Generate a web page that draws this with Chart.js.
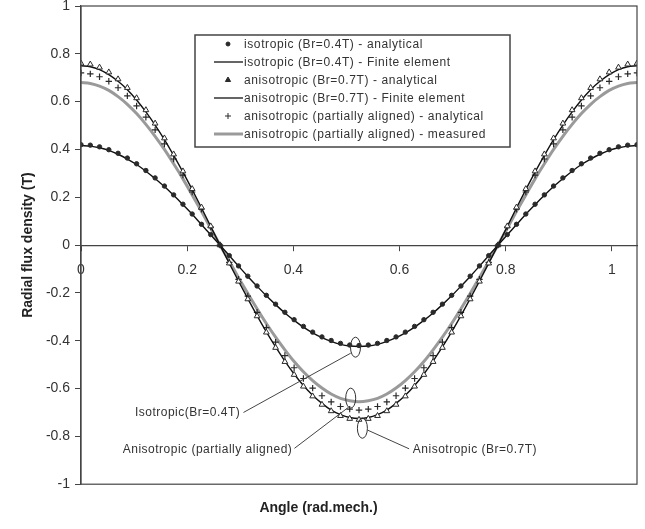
<!DOCTYPE html>
<html>
<head>
<meta charset="utf-8">
<script src="https://cdn.jsdelivr.net/npm/chart.js@4/dist/chart.umd.min.js"></script>
<style>
  html, body { margin: 0; padding: 0; background: #fff; }
  #wrap { width: 645px; height: 529px; }
</style>
</head>
<body>
<div id="wrap"><canvas id="c" width="645" height="529"></canvas></div>
<script>
// ---- data ----
const angles = [0,0.0175,0.0349,0.0524,0.0698,0.0873,0.1047,0.1222,0.1396,0.1571,0.1745,0.1920,0.2094,0.2269,0.2443,0.2618,0.2793,0.2967,0.3142,0.3316,0.3491,0.3665,0.3840,0.4014,0.4189,0.4363,0.4538,0.4712,0.4887,0.5061,0.5236,0.5411,0.5585,0.5760,0.5934,0.6109,0.6283,0.6458,0.6632,0.6807,0.6981,0.7156,0.7330,0.7505,0.7679,0.7854,0.8029,0.8203,0.8378,0.8552,0.8727,0.8901,0.9076,0.9250,0.9425,0.9599,0.9774,0.9948,1.0123,1.0297,1.0472];

const isoAnalytical = [0.420,0.418,0.411,0.399,0.384,0.364,0.340,0.312,0.281,0.247,0.210,0.171,0.130,0.087,0.044,0.000,-0.044,-0.087,-0.130,-0.171,-0.210,-0.247,-0.281,-0.312,-0.340,-0.364,-0.384,-0.399,-0.411,-0.418,-0.420,-0.418,-0.411,-0.399,-0.384,-0.364,-0.340,-0.312,-0.281,-0.247,-0.210,-0.171,-0.130,-0.087,-0.044,0.000,0.044,0.087,0.130,0.171,0.210,0.247,0.281,0.312,0.340,0.364,0.384,0.399,0.411,0.418,0.420];

const isoFiniteElement = [0.416,0.414,0.407,0.396,0.380,0.360,0.337,0.309,0.278,0.245,0.208,0.169,0.129,0.086,0.043,0.000,-0.044,-0.088,-0.131,-0.172,-0.212,-0.249,-0.284,-0.315,-0.343,-0.367,-0.387,-0.403,-0.415,-0.422,-0.424,-0.422,-0.415,-0.403,-0.387,-0.367,-0.343,-0.315,-0.284,-0.249,-0.212,-0.172,-0.131,-0.088,-0.044,0.000,0.043,0.086,0.129,0.169,0.208,0.245,0.278,0.309,0.337,0.360,0.380,0.396,0.407,0.414,0.416];

const anisoAnalytical = [0.760,0.756,0.743,0.723,0.694,0.658,0.615,0.565,0.509,0.447,0.380,0.309,0.235,0.158,0.079,0.000,-0.076,-0.152,-0.226,-0.297,-0.365,-0.429,-0.488,-0.542,-0.591,-0.632,-0.667,-0.694,-0.714,-0.726,-0.730,-0.726,-0.714,-0.694,-0.667,-0.632,-0.591,-0.542,-0.488,-0.429,-0.365,-0.297,-0.226,-0.152,-0.076,0.000,0.079,0.158,0.235,0.309,0.380,0.447,0.509,0.565,0.615,0.658,0.694,0.723,0.743,0.756,0.760];

const anisoFiniteElement = [0.750,0.746,0.734,0.713,0.685,0.650,0.607,0.557,0.502,0.441,0.375,0.305,0.232,0.156,0.078,0.000,-0.076,-0.151,-0.224,-0.295,-0.363,-0.426,-0.485,-0.539,-0.587,-0.628,-0.662,-0.690,-0.709,-0.721,-0.725,-0.721,-0.709,-0.690,-0.662,-0.628,-0.587,-0.539,-0.485,-0.426,-0.363,-0.295,-0.224,-0.151,-0.076,0.000,0.078,0.156,0.232,0.305,0.375,0.441,0.502,0.557,0.607,0.650,0.685,0.713,0.734,0.746,0.750];

const partialAnalytical = [0.720,0.716,0.704,0.685,0.658,0.624,0.582,0.535,0.482,0.423,0.360,0.293,0.222,0.150,0.075,0.000,-0.072,-0.143,-0.213,-0.281,-0.345,-0.406,-0.462,-0.513,-0.558,-0.598,-0.630,-0.656,-0.675,-0.686,-0.690,-0.686,-0.675,-0.656,-0.630,-0.598,-0.558,-0.513,-0.462,-0.406,-0.345,-0.281,-0.213,-0.143,-0.072,0.000,0.075,0.150,0.222,0.293,0.360,0.423,0.482,0.535,0.582,0.624,0.658,0.685,0.704,0.716,0.720];

const partialMeasured = [0.680,0.676,0.665,0.647,0.621,0.589,0.550,0.505,0.455,0.400,0.340,0.277,0.210,0.141,0.071,0.000,-0.068,-0.136,-0.202,-0.266,-0.328,-0.385,-0.438,-0.487,-0.530,-0.567,-0.598,-0.623,-0.641,-0.651,-0.655,-0.651,-0.641,-0.623,-0.598,-0.567,-0.530,-0.487,-0.438,-0.385,-0.328,-0.266,-0.202,-0.136,-0.068,0.000,0.071,0.141,0.210,0.277,0.340,0.400,0.455,0.505,0.550,0.589,0.621,0.647,0.665,0.676,0.680];

const seriesNames = [
  'isotropic (Br=0.4T) - analytical',
  'isotropic (Br=0.4T) - Finite element',
  'anisotropic (Br=0.7T) - analytical',
  'anisotropic (Br=0.7T) - Finite element',
  'anisotropic (partially aligned) - analytical',
  'anisotropic (partially aligned) - measured'
];
const xTickValues = [0, 0.2, 0.4, 0.6, 0.8, 1];
const yTickLabels = ['-1','-0.8','-0.6','-0.4','-0.2','0','0.2','0.4','0.6','0.8','1'];
const noteTexts = ['Isotropic(Br=0.4T)', 'Anisotropic (partially aligned)', 'Anisotropic (Br=0.7T)'];
const xTitle = 'Angle (rad.mech.)';
const yTitle = 'Radial flux density (T)';

// ---- build chart ----
const FONT = "'Liberation Sans', Arial, sans-serif";
const pts = vals => angles.map((a, i) => ({x: a, y: vals[i]}));
const DARK = '#2a2a2a';

const datasets = [
  { label: seriesNames[0], data: pts(isoAnalytical), showLine: false,
    pointStyle: 'circle', pointRadius: 2.2, pointBackgroundColor: DARK, pointBorderColor: DARK, pointBorderWidth: 1,
    legendKind: 'point', legendRadius: 2 },
  { label: seriesNames[1], data: pts(isoFiniteElement), showLine: true, borderColor: '#111', borderWidth: 1.4,
    pointRadius: 0, cubicInterpolationMode: 'monotone', legendKind: 'line' },
  { label: seriesNames[2], data: pts(anisoAnalytical), showLine: false,
    pointStyle: 'triangle', pointRadius: 3.3, pointBackgroundColor: '#fff', pointBorderColor: DARK, pointBorderWidth: 1,
    legendKind: 'point', legendRadius: 3, legendFill: DARK },
  { label: seriesNames[3], data: pts(anisoFiniteElement), showLine: true, borderColor: '#111', borderWidth: 1.4,
    pointRadius: 0, cubicInterpolationMode: 'monotone', legendKind: 'line' },
  { label: seriesNames[4], data: pts(partialAnalytical), showLine: false,
    pointStyle: 'cross', pointRadius: 3.2, pointBorderColor: DARK, pointBorderWidth: 1.2,
    legendKind: 'point', legendRadius: 3 },
  { label: seriesNames[5], data: pts(partialMeasured), showLine: true, borderColor: '#9a9a9a', borderWidth: 3,
    pointRadius: 0, cubicInterpolationMode: 'monotone', legendKind: 'line', legendWidth: 3 }
];

// annotation anchors in data units
const ellipses = [ {x: 0.517, y: -0.427}, {x: 0.508, y: -0.640}, {x: 0.530, y: -0.766} ];
const notes = [
  { text: noteTexts[0], tx: 0.300, ty: -0.700, align: 'right', from: {x: 0.306, y: -0.700}, to: {x: 0.508, y: -0.452} },
  { text: noteTexts[1], tx: 0.398, ty: -0.855, align: 'right', from: {x: 0.402, y: -0.850}, to: {x: 0.504, y: -0.678} },
  { text: noteTexts[2], tx: 0.625, ty: -0.855, align: 'left',  from: {x: 0.618, y: -0.852}, to: {x: 0.540, y: -0.774} }
];

const extras = {
  id: 'extras',
  afterDatasetsDraw(chart) {
    const {ctx, chartArea: a, scales: {x, y}} = chart;
    ctx.save();
    // frame
    ctx.strokeStyle = '#444'; ctx.lineWidth = 1.2;
    ctx.strokeRect(a.left, a.top, a.right - a.left, a.bottom - a.top);
    // ellipses
    ctx.strokeStyle = '#333'; ctx.lineWidth = 1;
    ellipses.forEach(e => {
      ctx.beginPath();
      ctx.ellipse(x.getPixelForValue(e.x), y.getPixelForValue(e.y), 5, 10, 0, 0, Math.PI * 2);
      ctx.stroke();
    });
    // notes with leaders
    ctx.font = '12px ' + FONT; ctx.fillStyle = '#333'; ctx.textBaseline = 'middle';
    try { ctx.letterSpacing = '0.5px'; } catch (e) {}
    notes.forEach(n => {
      ctx.beginPath();
      ctx.moveTo(x.getPixelForValue(n.from.x), y.getPixelForValue(n.from.y));
      ctx.lineTo(x.getPixelForValue(n.to.x), y.getPixelForValue(n.to.y));
      ctx.strokeStyle = '#444'; ctx.lineWidth = 1; ctx.stroke();
      ctx.textAlign = n.align;
      ctx.fillText(n.text, x.getPixelForValue(n.tx), y.getPixelForValue(n.ty));
    });
    // legend box
    const L = 195, T = 35, W = 315, H = 112, rowH = 18, firstRow = 44;
    ctx.fillStyle = '#fff'; ctx.fillRect(L, T, W, H);
    ctx.strokeStyle = '#444'; ctx.lineWidth = 1.5; ctx.strokeRect(L, T, W, H);
    ctx.font = '12px ' + FONT; ctx.textAlign = 'left'; ctx.textBaseline = 'middle';
    try { ctx.letterSpacing = '0.6px'; } catch (e) {}
    chart.data.datasets.forEach((ds, i) => {
      const cy = firstRow + i * rowH;
      if (ds.legendKind === 'line') {
        ctx.beginPath(); ctx.moveTo(214, cy); ctx.lineTo(243, cy);
        ctx.strokeStyle = ds.borderColor; ctx.lineWidth = ds.legendWidth || 1.3; ctx.stroke();
      } else {
        ctx.fillStyle = ds.legendFill || ds.pointBackgroundColor || DARK;
        ctx.strokeStyle = ds.pointBorderColor; ctx.lineWidth = 1;
        Chart.helpers.drawPoint(ctx, {pointStyle: ds.pointStyle, radius: ds.legendRadius, rotation: 0, borderWidth: 1}, 228, cy);
      }
      ctx.fillStyle = '#333';
      ctx.fillText(ds.label, 244, cy + 0.5);
    });
    try { ctx.letterSpacing = '0px'; } catch (e) {}
    ctx.restore();
  }
};

new Chart(document.getElementById('c'), {
  type: 'scatter',
  data: { datasets },
  options: {
    responsive: false,
    animation: false,
    layout: { padding: { left: 0, right: 8, top: 6, bottom: 0 } },
    plugins: {
      legend: { display: false },
      tooltip: { enabled: false },
      title: { display: true, position: 'bottom', text: xTitle, color: '#222',
               font: { family: FONT, size: 14, weight: 'bold' }, padding: { top: 16, bottom: 12 } }
    },
    scales: {
      x: {
        type: 'linear', position: { y: 0 }, min: 0, max: angles[angles.length - 1],
        afterBuildTicks: s => { s.ticks = xTickValues.map(v => ({value: v})); },
        ticks: { color: '#333', font: { family: FONT, size: 14 }, padding: 12,
                 callback: v => String(v) },
        grid: { drawOnChartArea: false, drawTicks: true, tickLength: 5, color: '#444' },
        border: { color: '#444', width: 1.2 }
      },
      y: {
        type: 'linear', position: 'left', min: -1, max: 1,
        ticks: { stepSize: 0.2, color: '#333', font: { family: FONT, size: 14 }, padding: 5,
                 callback: (v, i) => yTickLabels[i] },
        grid: { drawOnChartArea: false, drawTicks: true, tickLength: 6, color: '#444' },
        border: { color: '#444', width: 1.2 },
        title: { display: true, text: yTitle, color: '#222', font: { family: FONT, size: 14, weight: 'bold' },
                 padding: { top: 20, bottom: 0 } },
        afterFit: s => { s.width = 81; s.paddingTop = 0; s.paddingBottom = 0; }
      }
    }
  },
  plugins: [extras]
});
</script>
</body>
</html>
